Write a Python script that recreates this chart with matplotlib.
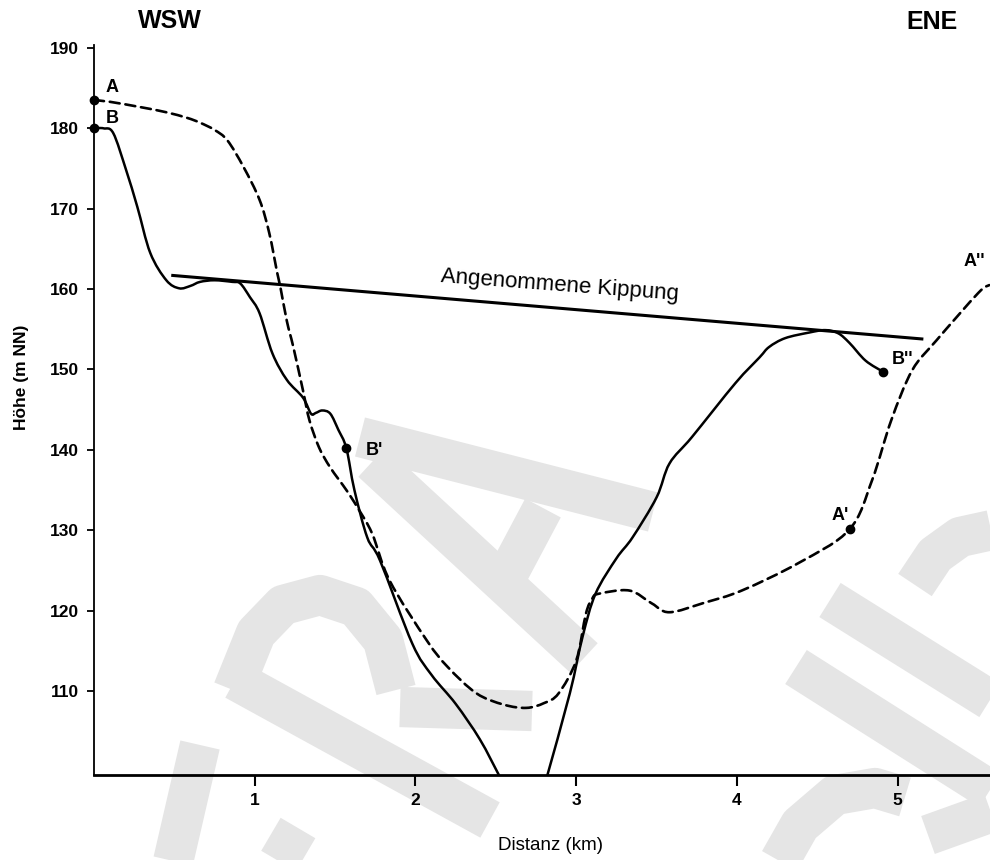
import matplotlib
matplotlib.use("Agg")
import matplotlib.pyplot as plt
from matplotlib.lines import Line2D
from matplotlib.path import Path
from matplotlib.patches import PathPatch

plt.rcParams["font.family"] = ["Liberation Sans", "DejaVu Sans"]

# Profil A (gestrichelt)
dist_a = [0.0, 0.10, 0.30, 0.45, 0.58, 0.66, 0.75, 0.83, 0.93, 1.03, 1.09, 1.14,
          1.16, 1.20, 1.24, 1.30, 1.34, 1.40, 1.47, 1.57, 1.64, 1.73, 1.84, 2.07,
          2.20, 2.38, 2.55, 2.69, 2.80, 2.89, 3.00, 3.06, 3.10, 3.14, 3.33, 3.47,
          3.58, 3.80, 4.03, 4.39, 4.70, 4.84, 4.96, 5.09, 5.24, 5.50, 5.57]
hoehe_a = [183.5, 183.3, 182.6, 182.0, 181.3, 180.7, 179.8, 178.5, 175.2, 171.1,
           167.0, 162.0, 160.2, 156.0, 152.8, 147.4, 143.7, 140.3, 137.8, 135.0,
           132.8, 129.6, 123.7, 116.3, 113.0, 109.7, 108.3, 107.9, 108.5, 109.7,
           113.8, 119.6, 121.5, 122.1, 122.5, 120.9, 119.8, 121.0, 122.5, 126.0,
           130.1, 136.2, 143.7, 149.9, 153.6, 159.5, 160.5]

# Profil B (durchgezogen), links und rechts vom Talboden
dist_b1 = [0.0, 0.06, 0.12, 0.20, 0.27, 0.35, 0.45, 0.53, 0.60, 0.66, 0.75, 0.86,
           0.91, 0.97, 1.03, 1.11, 1.20, 1.30, 1.35, 1.38, 1.42, 1.47, 1.52, 1.57,
           1.62, 1.70, 1.78, 1.98, 2.10, 2.25, 2.40, 2.52]
hoehe_b1 = [180.0, 180.0, 179.4, 174.8, 170.2, 164.5, 161.1, 160.1, 160.4, 160.9,
            161.1, 160.9, 160.7, 159.0, 157.0, 152.0, 148.7, 146.5, 144.5, 144.6,
            144.9, 144.5, 142.5, 140.2, 135.0, 129.1, 126.2, 115.9, 112.0, 108.4,
            104.0, 99.5]
dist_b2 = [2.82, 2.96, 3.04, 3.12, 3.25, 3.35, 3.50, 3.58, 3.72, 3.99, 4.14, 4.20,
           4.30, 4.45, 4.55, 4.63, 4.70, 4.80, 4.91]
hoehe_b2 = [99.5, 109.7, 116.8, 122.1, 126.5, 129.1, 134.1, 138.3, 141.6, 148.3,
            151.5, 152.8, 153.9, 154.6, 154.9, 154.5, 153.3, 151.1, 149.7]

# angenommene Kippung
kipp_x = [0.49, 5.15]
kipp_y = [161.7, 153.8]

# Profilpunkte
punkt_name = ["A", "B", "B'", "A'", "B''"]
punkt_x = [0.0, 0.0, 1.57, 4.70, 4.91]
punkt_y = [183.5, 180.0, 140.2, 130.1, 149.7]
punkt_off = [(13, 9), (13, 7), (20, -1.5), (-7, 10), (14, 9)]

y_ticks = [110, 120, 130, 140, 150, 160, 170, 180, 190]
x_ticks = [1, 2, 3, 4, 5]

# grauer Wasserzeichen-Hintergrund (Bildpixel)
wasserzeichen = [
    [(360, 437), (653, 512)],
    [(372, 462), (584, 658)],
    [(543, 508), (509, 572)],
    [(233, 690), (256, 633), (283, 605), (320, 595), (356, 607), (383, 640), (396, 690)],
    [(400, 707), (532, 711)],
    [(235, 680), (490, 820)],
    [(173, 862), (200, 745)],
    [(298, 828), (278, 862)],
    [(830, 600), (990, 700)],
    [(796, 667), (990, 790)],
    [(915, 585), (935, 555), (960, 537), (992, 530)],
    [(779, 862), (800, 825), (835, 795), (875, 788), (905, 797)],
    [(928, 835), (992, 812)],
]


def profil(ax, x, y, **kw):
    p = list(zip(x, y))
    n = len(p)
    verts = [p[0]]
    codes = [Path.MOVETO]
    for i in range(n - 1):
        p0 = p[max(i - 1, 0)]
        p1, p2 = p[i], p[i + 1]
        p3 = p[min(i + 2, n - 1)]
        c1 = (p1[0] + (p2[0] - p0[0]) / 6, p1[1] + (p2[1] - p0[1]) / 6)
        c2 = (p2[0] - (p3[0] - p1[0]) / 6, p2[1] - (p3[1] - p1[1]) / 6)
        verts += [c1, c2, p2]
        codes += [Path.CURVE4] * 3
    ax.add_patch(PathPatch(Path(verts, codes), fill=False, edgecolor="black",
                           capstyle="round", joinstyle="round", **kw))


fig = plt.figure(figsize=(9.9, 8.6), dpi=100)
for strich in wasserzeichen:
    fig.add_artist(Line2D([q[0] / 990 for q in strich], [1 - q[1] / 860 for q in strich],
                          transform=fig.transFigure, color="#e5e5e5", lw=29,
                          solid_capstyle="butt", solid_joinstyle="round", zorder=-1))

ax = fig.add_axes([94 / 990, 85 / 860, 896 / 990, 730 / 860])
ax.patch.set_alpha(0)

profil(ax, dist_a, hoehe_a, lw=1.9, linestyle=(0, (3.8, 2.2)))
profil(ax, dist_b1, hoehe_b1, lw=1.8)
profil(ax, dist_b2, hoehe_b2, lw=1.8)
ax.plot(kipp_x, kipp_y, color="black", lw=2.2)

ax.plot(punkt_x, punkt_y, "o", color="black", ms=6, clip_on=False, zorder=5)
for name, px, py, off in zip(punkt_name, punkt_x, punkt_y, punkt_off):
    ax.annotate(name, xy=(px, py), xytext=off, textcoords="offset points",
                ha="center", va="center", fontsize=13, fontweight="bold")
ax.annotate("A''", xy=(dist_a[-1], hoehe_a[-1]), xytext=(-11, 17),
            textcoords="offset points", ha="center", va="center",
            fontsize=13, fontweight="bold")

ax.text(2.90, 160.5, "Angenommene Kippung", rotation=-4.3, rotation_mode="anchor",
        ha="center", va="center", fontsize=16)

ax.set_xlim(0, 5.574)
ax.set_ylim(99.55, 190.37)
ax.set_xticks(x_ticks)
ax.set_yticks(y_ticks)
ax.tick_params(axis="y", direction="out", length=5, width=1.3, pad=6,
               labelsize=12.5)
ax.tick_params(axis="x", direction="out", length=8, width=1.5, pad=5,
               labelsize=12.5)
for lab in ax.get_xticklabels() + ax.get_yticklabels():
    lab.set_fontweight("bold")

ax.spines["top"].set_visible(False)
ax.spines["right"].set_visible(False)
ax.spines["left"].set_linewidth(1.3)
ax.spines["bottom"].set_linewidth(2.0)

fig.text(170 / 990, 1 - 21 / 860, "WSW", ha="center", va="center",
         fontsize=18, fontweight="bold")
fig.text(932 / 990, 1 - 22 / 860, "ENE", ha="center", va="center",
         fontsize=18, fontweight="bold")
fig.text(22 / 990, 1 - 377 / 860, "Höhe (m NN)", rotation=90, ha="center",
         va="center", fontsize=12.5, fontweight="bold")
fig.text(550 / 990, 1 - 845 / 860, "Distanz (km)", ha="center", va="center",
         fontsize=13.5)

fig.savefig("out.png", dpi=100)
